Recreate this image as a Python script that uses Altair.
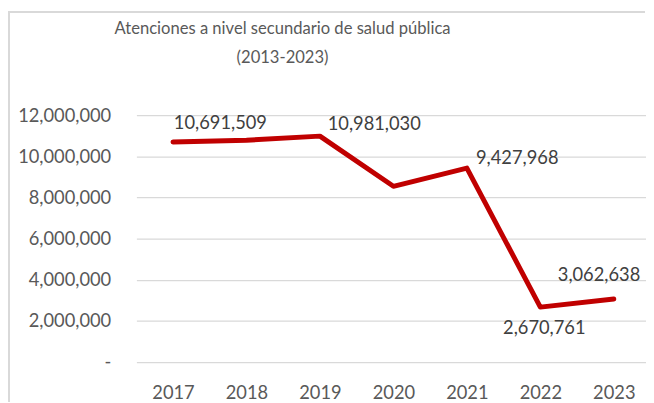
import altair as alt
import pandas as pd

years = ["2017", "2018", "2019", "2020", "2021", "2022", "2023"]
values = [10691509, 10780000, 10981030, 8540000, 9427968, 2670761, 3062638]
labeled_years = ["2017", "2019", "2021", "2022", "2023"]

df = pd.DataFrame({"year": years, "value": values})

FONT = "Lato"
AXIS_GRAY = "#595959"
LABEL_GRAY = "#404040"
GRID = "#D9D9D9"
RED = "#C00000"

x_enc = alt.X("year:O", title=None,
              scale=alt.Scale(type="point", padding=0.468, align=0.532),
              axis=alt.Axis(labelAngle=0, domain=False, ticks=False, grid=False,
                            labelPadding=22, labelFont=FONT, labelFontSize=18.5,
                            labelColor=AXIS_GRAY))
y_enc = alt.Y("value:Q", title=None,
              scale=alt.Scale(domain=[0, 12000000], nice=False, zero=True),
              axis=alt.Axis(values=[0, 2000000, 4000000, 6000000, 8000000, 10000000, 12000000],
                            labelExpr="datum.value == 0 ? '-\u00a0\u00a0' : format(datum.value, ',')",
                            domain=False, ticks=False, grid=True, gridColor=GRID, gridWidth=1.3,
                            labelPadding=26, labelFont=FONT, labelFontSize=18.5,
                            labelColor=AXIS_GRAY))

base = alt.Chart(df)

line = base.mark_line(color=RED, strokeWidth=5, strokeCap="round", strokeJoin="round").encode(
    x=x_enc, y=y_enc)

offsets = {"2017": (48, -19), "2019": (55, -12), "2021": (51, -10), "2022": (4, 21), "2023": (-15, -24)}
label_layers = []
for yr in labeled_years:
    ddx, ddy = offsets[yr]
    label_layers.append(
        base.transform_filter(alt.datum.year == yr).mark_text(
            font=FONT, fontSize=18.5, color=LABEL_GRAY, align="center", baseline="middle",
            dx=ddx, dy=ddy).encode(
            x=alt.X("year:O"), y=alt.Y("value:Q"),
            text=alt.Text("value:Q", format=","))
    )

top_border = base.mark_rule(color=GRID, strokeWidth=2).encode(
    x=alt.value(-130), x2=alt.value(515), y=alt.value(-104.5))
left_border = base.mark_rule(color=GRID, strokeWidth=2).encode(
    x=alt.value(-129), y=alt.value(-104.5), y2=alt.value(290))

chart = alt.layer(top_border, left_border, line, *label_layers).properties(
    width=516, height=250,
    autosize=alt.AutoSizeParams(type="none"),
    padding={"left": 130, "top": 106, "right": 0, "bottom": 40},
    title=alt.TitleParams(
        text=["Atenciones a nivel secundario de salud pública", "(2013-2023)"],
        font=FONT, fontSize=16.8, fontWeight="normal", color=AXIS_GRAY,
        anchor="middle", frame="group", dx=-110, offset=-70, lineHeight=30,
        baseline="alphabetic"),
).configure_view(stroke=None)

chart.save("out.html", embed_options={"renderer": "svg", "actions": False})
